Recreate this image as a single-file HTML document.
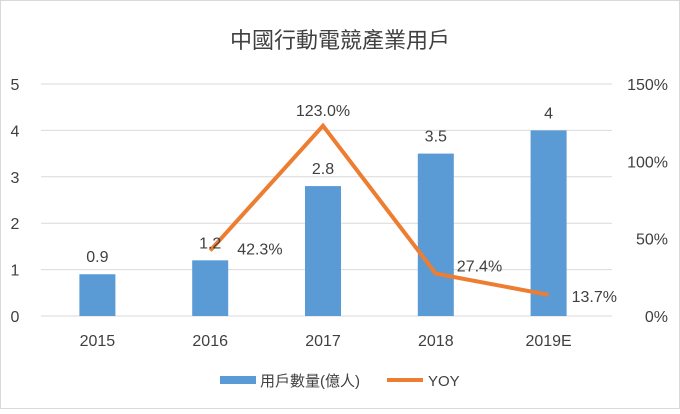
<!DOCTYPE html>
<html><head><meta charset="utf-8"><style>
body{margin:0;background:#fff}
svg text{font-family:"Liberation Sans","Noto Sans CJK TC",sans-serif;fill:#404040}
</style></head><body>
<svg width="680" height="409" xmlns="http://www.w3.org/2000/svg">
<rect x="0.5" y="0.5" width="679" height="408" fill="#fff" stroke="#d9d9d9"/>
<text x="340" y="48" text-anchor="middle" font-size="22" style="fill:#404040">中國行動電競產業用戶</text>
<g id="grid"></g><g id="bars"></g><g id="line"></g><g id="labels"></g>
<g>
<rect x="220" y="376" width="36" height="8" fill="#5b9bd5"/>
<text x="260" y="386" font-size="15">用戶數量(億人)</text>
<line x1="387" y1="380" x2="423" y2="380" stroke="#ed7d31" stroke-width="4"/>
<text x="428" y="386" font-size="15">YOY</text>
</g>
</svg>
<script>
const categories=["2015","2016","2017","2018","2019E"];
const users=[0.9,1.2,2.8,3.5,4];
const yoy=[null,42.3,123.0,27.4,13.7];
const leftTicks=[0,1,2,3,4,5];
const rightTicks=["0%","50%","100%","150%"];
const NS="http://www.w3.org/2000/svg";
const x0=41,x1=605,yTop=84,yBot=316;
const yL=v=>yBot-(v/5)*(yBot-yTop);
const yR=p=>yBot-(p/150)*(yBot-yTop);
const band=(x1-x0)/categories.length;
const xC=i=>x0+band*(i+0.5);
function mk(t,a,p){const e=document.createElementNS(NS,t);for(const k in a)e.setAttribute(k,a[k]);document.getElementById(p).appendChild(e);return e;}
leftTicks.forEach(v=>{
 const g=mk("line",{x1:x0,x2:x1+7,y1:yL(v),y2:yL(v),stroke:"#d9d9d9","stroke-width":1},"grid");
 
 
 const t=mk("text",{x:15,y:yL(v)+6,"font-size":16,"text-anchor":"middle"},"labels");t.textContent=v;
 
 
});
rightTicks.forEach((s,i)=>{
 const t=mk("text",{x:668,y:yR(i*50)+6,"font-size":16,"text-anchor":"end"},"labels");t.textContent=s;
 
 
});
categories.forEach((c,i)=>{
 const b=mk("rect",{x:xC(i)-18,y:yL(users[i]),width:36,height:yBot-yL(users[i]),fill:"#5b9bd5"},"bars");
 
 
 const t=mk("text",{x:xC(i),y:yL(users[i])-12,"font-size":16,"text-anchor":"middle"},"labels");t.textContent=users[i];
 
 
 const c2=mk("text",{x:xC(i),y:346,"font-size":16,"text-anchor":"middle"},"labels");c2.textContent=c;
 
 
});
let pts=[];yoy.forEach((p,i)=>{if(p!==null)pts.push(xC(i)+","+yR(p));});
const pl=mk("polyline",{points:pts.join(" "),fill:"none",stroke:"#ed7d31","stroke-width":4,"stroke-linejoin":"miter"},"line");


const offs=[null,[27,4,"start"],[0,-10,"middle"],[21,-2,"start"],[23,7,"start"]];
yoy.forEach((p,i)=>{if(p===null)return;
 const o=offs[i];
 const t=mk("text",{x:xC(i)+o[0],y:yR(p)+o[1],"font-size":16,"text-anchor":o[2]},"labels");
 t.textContent=p.toFixed(1)+"%";
 
 
});
</script>
</body></html>
